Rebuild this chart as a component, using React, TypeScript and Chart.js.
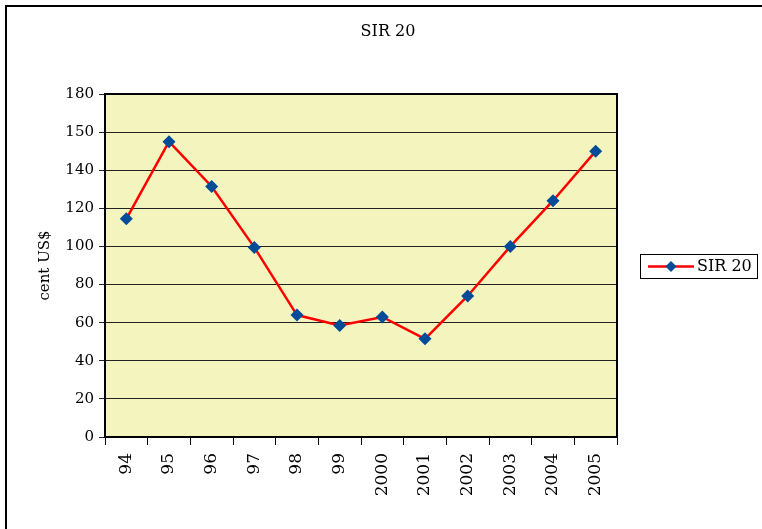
import React, { useEffect, useRef } from "react";
import { Chart, registerables } from "chart.js";

Chart.register(...registerables);

const categories = ["94", "95", "96", "97", "98", "99", "2000", "2001", "2002", "2003", "2004", "2005"];
const sirValues = [114.5, 155, 131.5, 99.5, 64, 58.5, 63, 51.5, 74, 100, 124, 150];
const yTickLabels = ["0", "20", "40", "60", "80", "100", "120", "140", "150", "180"];
const seriesName = "SIR 20";
const chartTitle = "SIR 20";
const yAxisTitle = "cent US$";

const FONT = "'DejaVu Serif', serif";
const PLOT_BG = "rgb(244,244,190)";
const LINE_COLOR = "#ff0000";
const MARKER_COLOR = "#004c99";

const framePlugin = {
  id: "frame",
  beforeDraw(chart: any) {
    const { ctx, chartArea: a } = chart;
    ctx.save();
    ctx.fillStyle = "#ffffff";
    ctx.fillRect(0, 0, chart.width, chart.height);
    ctx.fillStyle = PLOT_BG;
    ctx.fillRect(a.left, a.top, a.right - a.left, a.bottom - a.top);
    ctx.strokeStyle = "#000";
    ctx.lineWidth = 2;
    ctx.strokeRect(6, 6, chart.width + 10, chart.height + 10);
    ctx.restore();
  },
  beforeDatasetsDraw(chart: any) {
    const { ctx, chartArea: a } = chart;
    ctx.save();
    ctx.strokeStyle = "#000";
    ctx.lineWidth = 2;
    ctx.strokeRect(a.left, a.top, a.right - a.left, a.bottom - a.top);
    ctx.restore();
  },
  afterDraw(chart: any) {
    const { ctx } = chart;
    const ds = chart.data.datasets[0];
    ctx.save();
    ctx.strokeStyle = "#000";
    ctx.lineWidth = 1;
    ctx.strokeRect(640.5, 254.5, 117, 24);
    const cy = 266.5;
    ctx.strokeStyle = ds.borderColor;
    ctx.lineWidth = 2.5;
    ctx.beginPath();
    ctx.moveTo(648, cy);
    ctx.lineTo(694, cy);
    ctx.stroke();
    ctx.fillStyle = ds.pointBackgroundColor;
    const r = 5.5;
    const cx = 671;
    ctx.beginPath();
    ctx.moveTo(cx, cy - r);
    ctx.lineTo(cx + r, cy);
    ctx.lineTo(cx, cy + r);
    ctx.lineTo(cx - r, cy);
    ctx.closePath();
    ctx.fill();
    ctx.fillStyle = "#000";
    ctx.font = `16px ${FONT}`;
    ctx.textBaseline = "middle";
    ctx.textAlign = "left";
    ctx.fillText(ds.label, 697, cy);
    ctx.restore();
  },
};

export default function App() {
  const ref = useRef<HTMLCanvasElement | null>(null);

  useEffect(() => {
    if (!ref.current) return;
    const chart = new Chart(ref.current, {
      type: "line",
      data: {
        labels: categories,
        datasets: [
          {
            label: seriesName,
            data: sirValues,
            borderColor: LINE_COLOR,
            backgroundColor: LINE_COLOR,
            borderWidth: 2.5,
            pointStyle: "rectRot",
            pointRadius: 6.5,
            pointBackgroundColor: MARKER_COLOR,
            pointBorderColor: MARKER_COLOR,
            pointBorderWidth: 0,
            tension: 0,
            yAxisID: "y",
          },
        ],
      },
      options: {
        responsive: false,
        animation: false,
        devicePixelRatio: 1,
        layout: { padding: { left: 14, right: 0, top: 0, bottom: 0 } },
        plugins: {
          legend: { display: false },
          tooltip: { enabled: false },
          title: {
            display: true,
            text: chartTitle,
            color: "#000",
            font: { family: FONT, size: 16, weight: "normal", lineHeight: 1.2 },
            padding: { top: 22.4, bottom: 52.4 },
          },
        },
        scales: {
          x: {
            type: "category",
            offset: true,
            grid: {
              display: true,
              drawOnChartArea: false,
              drawTicks: true,
              tickLength: 8,
              offset: true,
              color: "#000",
              lineWidth: 1,
            },
            border: { display: false },
            ticks: {
              color: "#000",
              font: { family: FONT, size: 17 },
              minRotation: 90,
              maxRotation: 90,
              padding: 8,
              autoSkip: false,
            },
            afterFit: (s: any) => {
              s.height = 92;
            },
          },
          y: {
            type: "linear",
            position: "left",
            min: 0,
            max: 180,
            grid: {
              color: "#222",
              lineWidth: 1,
              drawTicks: true,
              tickLength: 6,
            },
            border: { display: false },
            ticks: {
              stepSize: 20,
              color: "#000",
              font: { family: FONT, size: 15 },
              padding: 5,
              callback: (_v: any, i: number) => yTickLabels[i],
            },
            title: {
              display: true,
              text: yAxisTitle,
              color: "#000",
              font: { family: FONT, size: 15, lineHeight: 1.2 },
              padding: { top: 22.5, bottom: 0 },
            },
            afterFit: (s: any) => {
              s.width = 91;
            },
          },
          yRight: {
            type: "linear",
            position: "right",
            display: true,
            grid: { display: false, drawTicks: false },
            border: { display: false },
            ticks: { display: false },
            afterFit: (s: any) => {
              s.width = 145;
            },
          },
        },
      },
      plugins: [framePlugin],
    } as any);
    return () => chart.destroy();
  }, []);

  return (
    <div style={{ position: "fixed", left: 0, top: 0, width: 762, height: 529, background: "#fff" }}>
      <canvas ref={ref} width={762} height={529} style={{ display: "block", width: 762, height: 529 }} />
    </div>
  );
}
